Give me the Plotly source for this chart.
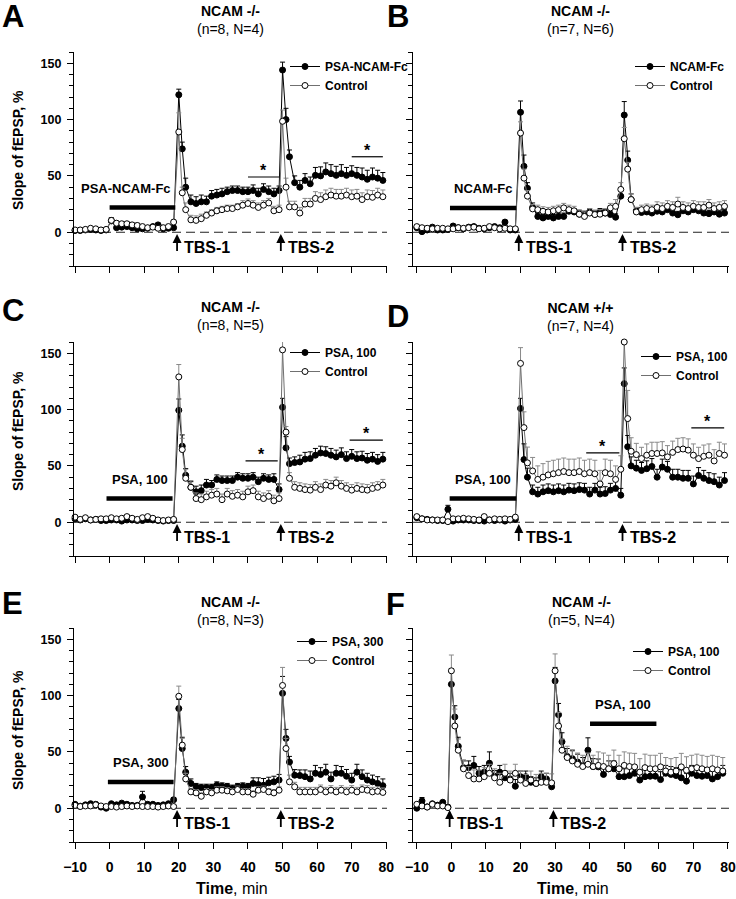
import plotly.graph_objects as go

W, H = 736, 899
FONT = "Liberation Sans, Arial, Helvetica, sans-serif"

# ---------------- data ----------------
T_AE = [-10, -8.5, -7, -5.5, -4, -2.5, -1, 0.5, 2, 3.5, 5, 6.5, 8, 9.5, 11, 12.5, 14, 15.5, 17, 18.5,
        20, 21, 22, 23.5, 25, 26.5, 28, 29.5, 31, 32.5, 34, 35.5, 37, 38.5, 40, 41.5, 43, 44.5, 46, 47.5, 49,
        50, 51, 52, 53.5, 55, 56.5, 58, 59.5, 61, 62.5, 64, 65.5, 67, 68.5, 70, 71.5, 73, 74.5, 76, 77.5, 79]
T_F = [-10, -8.5, -7, -5.5, -4, -2.5, -1,
       0, 1, 2, 3.5, 5, 6.5, 8, 9.5, 11, 12.5, 14, 15.5, 17, 18.5, 20, 21.5, 23, 24.5, 26, 27.5, 29,
       30, 31, 32, 33.5, 35, 36.5, 38, 39.5, 41, 42.5, 44, 45.5, 47, 48.5, 50, 51.5, 53, 54.5, 56, 57.5, 59,
       60.5, 62, 63.5, 65, 66.5, 68, 69.5, 71, 72.5, 74, 75.5, 77, 78.5]

# Panel A
A_trt = [1.5, 1.5, 2, 2.5, 2, 1.5, 2, 10, 4, 4.5, 5, 4, 3, 3, 3.5, 5, 6.5, 3, 3.5, 4,
         122, 74, 40, 27, 25.5, 27, 27, 32, 33, 34, 36, 37, 37, 36, 36, 37, 34, 38, 36, 34, 37,
         144, 100, 67, 44, 40, 46, 43, 50.5, 50, 53.5, 52, 50.5, 52, 50.5, 52, 50.5, 49, 47, 49, 48, 46]
A_trt_err = [1, 1, 1, 1, 1, 1, 1, 3, 1.5, 1.5, 1.5, 1.5, 1.5, 1.5, 1.5, 1.5, 1.5, 1.5, 1.5, 1.5,
             5, 6, 8, 6, 6, 6, 5, 5, 5, 5, 4, 4, 4, 4, 4, 5, 5, 5, 5, 5, 4,
             7, 10, 6, 6, 6, 6, 6, 7, 8, 8, 8, 8, 8, 7, 7, 7, 8, 8, 8, 7, 7]
A_ctl = [2, 2, 2.5, 3.5, 3, 2, 2.5, 10.5, 8, 7.5, 7.5, 6.5, 6, 5, 4, 4.5, 3.5, 4, 5, 9,
         89, 35, 20, 11, 10.5, 12, 15, 17, 19, 20, 21, 21, 22.5, 24, 25.5, 24, 22, 24, 26, 19, 20,
         98.5, 40, 22.5, 22.5, 17, 25, 25, 30, 29, 31.5, 33, 32, 32, 33, 31.5, 32, 29, 31.5, 31, 33, 31.5]
A_ctl_err = [1, 1, 1, 1, 1, 1, 1, 2, 2, 2, 2, 2, 2, 2, 2, 2, 2, 2, 2, 2,
             17, 5, 6, 4, 4, 4, 3, 3, 3, 3, 3, 3, 3, 4, 4, 4, 4, 4, 4, 4, 4,
             10, 8, 5, 5, 5, 5, 5, 6, 6, 6, 6, 6, 6, 6, 6, 6, 6, 6, 6, 6, 6]

# Panel B
B_trt = [4, 0.5, 2, 4.5, 2, 2, 2.5, 5.5, 4, 3, 4.5, 5, 3.5, 3, 4, 5, 4, 9, 2, 2,
         106.5, 58.5, 39, 22, 14, 12.7, 14, 12.7, 14, 14, 18.6, 18, 16, 15.7, 18, 16, 18, 17, 15.7, 13.3, 32,
         104, 64, 29, 19, 17.5, 18, 17, 18.6, 18, 20, 17, 15.5, 19, 18, 20, 19, 17, 16.5, 18, 16, 17]
B_trt_err = [1.5, 1.5, 1.5, 1.5, 1.5, 1.5, 1.5, 1.5, 1.5, 1.5, 1.5, 1.5, 1.5, 1.5, 1.5, 1.5, 1.5, 1.5, 1.5, 1.5,
             10, 10, 5, 4, 3, 3, 3, 3, 3, 3, 3, 3, 3, 3, 3, 3, 3, 3, 3, 3, 5,
             12, 8, 5, 3, 3, 3, 3, 3, 3, 4, 3, 3, 4, 3, 3, 4, 3, 3, 4, 3, 3]
B_ctl = [5, 4, 3.5, 3, 3.5, 3.5, 3, 3, 4, 3.5, 4, 4.5, 3, 3.5, 5, 4, 3, 3.5, 3, 3,
         88, 48, 32, 20.7, 20, 18.6, 18, 19, 20, 21.6, 20, 19, 16, 14, 17, 15.7, 16, 17, 21.6, 23, 38,
         83, 56, 29, 18, 20, 21, 20, 22, 21, 23, 22, 25, 22, 21, 23, 22, 22, 24, 21, 22, 23]
B_ctl_err = [1.5, 1.5, 1.5, 1.5, 1.5, 1.5, 1.5, 1.5, 1.5, 1.5, 1.5, 1.5, 1.5, 1.5, 1.5, 1.5, 1.5, 1.5, 1.5, 1.5,
             10, 8, 5, 4, 4, 4, 4, 4, 4, 4, 4, 4, 4, 4, 4, 4, 4, 4, 4, 6, 6,
             10, 6, 5, 4, 4, 4, 4, 5, 5, 5, 5, 6, 5, 5, 5, 5, 5, 5, 5, 5, 5]

# Panel C
C_trt = [3, 2, 3, 2, 2.5, 1.5, 1.5, 2, 2, 1, 2, 2, 1.5, 1.5, 2.5, 2, 1.5, 1, 1.5, 1.5,
         99.4, 67.5, 41.7, 31, 27, 28, 33, 33, 38, 37, 37, 37, 40, 39, 39, 40, 36, 39, 38, 38, 29,
         102, 66, 52, 53, 53.5, 56, 56.5, 59.5, 61.5, 61, 59.5, 58, 60, 56.5, 58.5, 56.5, 57, 55, 56, 54, 56]
C_trt_err = [1, 1, 1, 1, 1, 1, 1, 1, 1, 1, 1, 1, 1, 1, 1, 1, 1, 1, 1, 1,
             10, 10, 6, 5, 5, 5, 5, 4, 4, 4, 4, 4, 4, 4, 4, 4, 4, 4, 4, 5, 5,
             8, 10, 5, 5, 6, 6, 6, 6, 6, 6, 6, 6, 6, 6, 6, 6, 6, 6, 6, 6, 6]
C_ctl = [4.5, 2.5, 4, 2, 2.5, 3, 3, 4, 3, 3.5, 5, 3.5, 2.5, 4, 5, 3.5, 2, 1.5, 2, 2.5,
         129, 64.5, 39, 31, 21, 20, 22.5, 24, 25, 20, 25, 23, 24, 22.5, 27, 28, 22.5, 21, 23, 19, 21,
         153, 80, 39, 31, 30, 29, 28.5, 31, 29, 33, 32, 35, 32, 30, 28.5, 30, 29, 28.5, 30, 31, 33]
C_ctl_err = [1.5, 1.5, 1.5, 1.5, 1.5, 1.5, 1.5, 1.5, 1.5, 1.5, 1.5, 1.5, 1.5, 1.5, 1.5, 1.5, 1.5, 1.5, 1.5, 1.5,
             11, 10, 8, 6, 5, 5, 5, 5, 5, 5, 5, 5, 5, 5, 5, 5, 5, 5, 5, 5, 5,
             8, 5, 5, 5, 5, 5, 5, 5, 5, 5, 5, 5, 5, 5, 5, 5, 5, 5, 5, 5, 5]

# Panel D
D_trt = [4, 3, 2.5, 2, 1.5, 1.5, 11.5, 1, 2, 2, 2, 1.5, 1.5, 1, 2, 1.5, 2, 1, 2, 2.5,
         101, 55.6, 40, 27, 25, 27, 28, 27, 28, 27, 28.5, 28, 29, 28.5, 25, 28.5, 25, 25.5, 28.5, 30, 24,
         123, 67, 50, 48, 46, 47.5, 49.5, 40, 49, 47, 40, 40, 39, 39, 34, 41.5, 39, 37, 36, 33, 37]
D_trt_err = [1, 1, 1, 1, 1, 1, 3.5, 1, 1, 1, 1, 1, 1, 1, 1, 1, 1, 1, 1, 1,
             9, 14, 8, 6, 6, 6, 6, 6, 6, 6, 6, 6, 6, 6, 6, 6, 6, 6, 6, 6, 6,
             14, 10, 8, 7, 7, 7, 7, 7, 7, 7, 7, 7, 7, 7, 7, 7, 7, 7, 7, 7, 7]
D_ctl = [5, 3, 2, 2, 2, 2, 0.5, 3, 3, 3.5, 3, 2.5, 2, 5, 2, 3, 2.5, 3, 2.5, 4.5,
         141, 84, 52.7, 45.5, 38, 40, 42, 43, 44, 45, 44, 44, 45, 43, 44, 43, 34, 44, 43, 38, 47,
         160, 92, 63, 60, 56.5, 59.5, 61, 61, 61.5, 58, 62, 64.5, 65, 64, 59.5, 56.5, 58.5, 59.5, 54.4, 61, 59.5]
D_ctl_err = [1.5, 1.5, 1.5, 1.5, 1.5, 1.5, 1.5, 1.5, 1.5, 1.5, 1.5, 1.5, 1.5, 1.5, 1.5, 1.5, 1.5, 1.5, 1.5, 1.5,
             14, 14, 14, 12, 12, 12, 12, 12, 12, 12, 12, 12, 12, 12, 12, 12, 12, 12, 12, 12, 12,
             0, 25, 12, 10, 10, 10, 10, 10, 10, 10, 10, 10, 10, 10, 10, 10, 10, 10, 10, 10, 10]

# Panel E
E_trt = [3.5, 1.8, 3, 4, 3.5, 1, 0, 4, 3, 4.5, 3.5, 2.5, 2.5, 10, 3.5, 3.5, 2.5, 3, 4, 7.5,
         88.5, 53, 32, 22, 19, 18.3, 18.3, 18.3, 20.4, 19.5, 19, 17.5, 19, 19.5, 19, 22, 21, 20.4, 22.5, 23.4, 25,
         102, 62, 41, 29.3, 29, 28, 26, 31, 30, 32, 26, 31, 31, 28.4, 25, 32, 28, 25, 23.4, 22, 20]
E_trt_err = [1, 1, 1, 1, 1, 1, 1, 1, 1, 1, 1, 1, 1, 5, 1, 1, 1, 1, 1, 2,
             8, 10, 5, 4, 3, 3, 3, 3, 3, 3, 3, 3, 3, 3, 3, 5, 6, 6, 5, 5, 5,
             15, 8, 5, 5, 5, 6, 7, 7, 6, 7, 6, 7, 6, 6, 6, 7, 6, 6, 6, 6, 6]
E_ctl = [2.5, 1.5, 2, 2, 3, 2, 1.5, 1.5, 1, 1.5, 2, 1.5, 2, 1.5, 1.5, 1.5, 1, 1.5, 2, 1.5,
         99.4, 56, 26, 14.5, 13.6, 10.6, 14.5, 13.6, 16, 16, 15.4, 14.5, 16.6, 14.5, 14.5, 12.4, 16, 16.6, 14.5, 13.6, 16,
         109, 53, 23.4, 19, 14.5, 14.5, 14.5, 14.5, 16.6, 14.5, 16, 14.5, 16, 14.5, 16, 14.5, 16.6, 16, 14.5, 15, 14]
E_ctl_err = [1, 1, 1, 1, 1, 1, 1, 1, 1, 1, 1, 1, 1, 1, 1, 1, 1, 1, 1, 1,
             9, 6, 5, 3, 3, 3, 3, 3, 3, 3, 3, 3, 3, 3, 3, 3, 3, 3, 3, 3, 3,
             16, 9, 6, 4, 4, 4, 4, 4, 4, 4, 4, 4, 4, 4, 4, 4, 4, 4, 4, 4, 4]

# Panel F
F_trt = [0, 6.5, 1.2, 4, 2.7, 5.3, 1,
         110, 81, 55, 36, 36, 38, 31, 32, 40, 28.4, 32, 27, 26, 19.5, 28, 28, 23, 22, 28, 26, 19,
         113, 83, 59, 46, 44, 41, 38, 51.5, 37, 36.7, 30, 35, 35, 28, 28, 29, 31, 25, 28, 28.4, 28.4,
         25.4, 31, 30, 29, 27, 24, 31, 29, 28.4, 29, 26, 28, 31]
F_trt_err = [1, 3, 1, 1, 1, 1, 1,
             14, 10, 8, 6, 6, 8, 6, 6, 10, 5, 6, 6, 5, 6, 5, 5, 5, 5, 5, 5, 5,
             12, 10, 8, 7, 7, 7, 7, 11, 7, 7, 7, 7, 7, 7, 7, 7, 7, 7, 7, 7, 7,
             7, 7, 7, 7, 7, 7, 7, 7, 7, 7, 7, 7, 7]
F_ctl = [3.5, 2, 1, 3.5, 2, 2, 0.5,
         122, 73, 51.5, 35, 29, 26, 26, 28, 31, 27, 23, 31, 25, 31, 25, 22, 25, 22, 23, 23, 22.5,
         122, 73, 51.5, 45, 42, 39, 37, 39, 37, 38, 37, 35, 39.6, 35, 38, 37, 36.7, 32, 36, 35, 35,
         36.7, 33, 32, 33, 36.7, 33.7, 35, 36, 35, 34, 35, 34, 33]
F_ctl_err = [1, 1, 1, 1, 1, 1, 1,
             14, 15, 10, 8, 8, 8, 8, 8, 8, 8, 8, 8, 8, 8, 8, 8, 8, 8, 8, 8, 8,
             15, 12, 10, 10, 10, 10, 10, 10, 10, 12, 12, 12, 12, 12, 12, 12, 12, 12, 12, 12, 12,
             12, 12, 12, 12, 12, 12, 12, 12, 12, 12, 12, 12, 12]

panel_letters = ["A", "B", "C", "D", "E", "F"]
genotypes = ["NCAM -/-", "NCAM -/-", "NCAM -/-", "NCAM +/+", "NCAM -/-", "NCAM -/-"]
sample_sizes = ["(n=8, N=4)", "(n=7, N=6)", "(n=8, N=5)", "(n=7, N=4)", "(n=8, N=3)", "(n=5, N=4)"]
treatment_names = ["PSA-NCAM-Fc", "NCAM-Fc", "PSA, 100", "PSA, 100", "PSA, 300", "PSA, 100"]
control_name = "Control"
drug_start = [0, -0.4, -0.9, -0.5, -0.5, 40.1]
drug_end = [19, 18.8, 18.2, 18.8, 18.5, 59.3]
tbs_times = [[19.5, 49.5], [19.5, 49.5], [19.5, 49.5], [19.5, 49.5], [19.5, 49.5], [-0.5, 29.5]]
tbs_labels = ["TBS-1", "TBS-2"]
sig_panel = [0, 0, 2, 2, 3, 3]
sig_start = [40, 70, 39.3, 69.4, 39, 69.4]
sig_end = [49, 79, 48.6, 79, 48.6, 78.9]
sig_level = [49, 67, 54.4, 72.8, 61.5, 83.7]
x_ticks = [-10, 0, 10, 20, 30, 40, 50, 60, 70, 80]

times = [T_AE, T_AE, T_AE, T_AE, T_AE, T_F]
treated = [A_trt, B_trt, C_trt, D_trt, E_trt, F_trt]
treated_err = [A_trt_err, B_trt_err, C_trt_err, D_trt_err, E_trt_err, F_trt_err]
control = [A_ctl, B_ctl, C_ctl, D_ctl, E_ctl, F_ctl]
control_err = [A_ctl_err, B_ctl_err, C_ctl_err, D_ctl_err, E_ctl_err, F_ctl_err]
for arrs in (treated, treated_err, control, control_err):
    for k, a in enumerate(arrs):
        assert len(a) == len(times[k]), (k, len(a), len(times[k]))

# ---------------- layout (pixel geometry) ----------------
X_DOM = [(74, 387), (413, 729)]
X_RNG = [[-10.3, 80.2], [-11.1, 80.3]]
Y_DOM = [(52, 266), (342, 556), (628, 842)]
Y_RNG = [-30, 160]
drug_level = [22, 21.6, 21, 21, 23.3, 75]
drug_label_shift = [-4.9, 0, 0, 0, 0, 0]
legend_px = [(285, 52), (630, 52), (285, 338), (636, 342), (292, 627), (628, 637)]
title_px = [(230, 20), (580, 20), (230, 316), (580, 317), (230, 611), (581, 611)]
letter_px = [(13, 16), (398, 16), (13, 311), (398, 316), (12, 603), (396, 604)]
ytitle_py = [150, 431, 730]
xtitle_px = [(232, 888), (573, 888)]


def px(x):
    return x / W


def py(y):
    return 1 - y / H


fig = go.Figure()
layout = dict(width=W, height=H, margin=dict(l=0, r=0, t=0, b=0, pad=0, autoexpand=False),
              autosize=False, paper_bgcolor="white", plot_bgcolor="white",
              font=dict(family=FONT, color="black"), showlegend=True)
shapes = []
anns = []

for i in range(6):
    row, col = divmod(i, 2)
    sfx = "" if i == 0 else str(i + 1)
    xr, yr = "x" + sfx, "y" + sfx
    lg = "legend" + sfx
    T = times[i]

    layout["xaxis" + sfx] = dict(
        domain=[px(X_DOM[col][0]), px(X_DOM[col][1])], range=X_RNG[col], anchor=yr,
        automargin=False,
        showline=True, linecolor="black", linewidth=1.3, mirror=False,
        ticks="outside", ticklen=6, tickwidth=1.2, tickcolor="black",
        tickmode="array", tickvals=x_ticks, showticklabels=(row == 2),
        tickfont=dict(size=14, weight="bold", family=FONT), ticklabelstandoff=6,
        showgrid=False, zeroline=False)
    layout["yaxis" + sfx] = dict(
        domain=[py(Y_DOM[row][1]), py(Y_DOM[row][0])], range=Y_RNG, anchor=xr,
        automargin=False,
        showline=True, linecolor="black", linewidth=1.3,
        ticks="outside", ticklen=6, tickwidth=1.2, tickcolor="black",
        tickmode="linear", tick0=0, dtick=50, showticklabels=(col == 0),
        minor=dict(tick0=0, dtick=10, ticks="outside", ticklen=3.5, tickwidth=1, tickcolor="black"),
        tickfont=dict(size=12.5, weight="bold", family=FONT), ticklabelstandoff=3,
        showgrid=False, zeroline=False)

    fig.add_trace(go.Scatter(
        x=T, y=treated[i], name=treatment_names[i], mode="lines+markers",
        xaxis=xr, yaxis=yr, legend=lg, cliponaxis=False,
        line=dict(color="black", width=1),
        marker=dict(symbol="circle", size=6, color="black", line=dict(color="black", width=1)),
        error_y=dict(type="data", array=treated_err[i], arrayminus=[0] * len(T), symmetric=False,
                     color="black", thickness=1, width=2.5)))
    fig.add_trace(go.Scatter(
        x=T, y=control[i], name=control_name, mode="lines+markers",
        xaxis=xr, yaxis=yr, legend=lg, cliponaxis=False,
        line=dict(color="#707070", width=1),
        marker=dict(symbol="circle", size=6, color="white", line=dict(color="black", width=1)),
        error_y=dict(type="data", array=control_err[i], arrayminus=[0] * len(T), symmetric=False,
                     color="#8a8a8a", thickness=1, width=2.5)))

    lx, ly = legend_px[i]
    layout[lg] = dict(x=px(lx), y=py(ly), xanchor="left", yanchor="top",
                      bgcolor="rgba(0,0,0,0)", borderwidth=0, itemwidth=30,
                      font=dict(size=12, weight="bold", family=FONT, color="black"))

    # dashed baseline
    shapes.append(dict(type="line", xref=xr + " domain", yref=yr, x0=0, x1=1, y0=0, y1=0,
                       line=dict(color="#222222", width=1.1, dash="9px,5px"), layer="below"))
    # drug application bar
    shapes.append(dict(type="line", xref=xr, yref=yr, x0=drug_start[i], x1=drug_end[i],
                       y0=drug_level[i], y1=drug_level[i], line=dict(color="black", width=4.5)))
    anns.append(dict(xref=xr, yref=yr, x=(drug_start[i] + drug_end[i]) / 2 + drug_label_shift[i],
                     y=drug_level[i] + 17, text="<b>%s</b>" % treatment_names[i], showarrow=False,
                     xanchor="center", yanchor="middle", font=dict(size=13, family=FONT)))
    # TBS arrows
    for k, t in enumerate(tbs_times[i]):
        anns.append(dict(xref=xr, yref=yr, x=t, y=-1.5, axref=xr, ayref=yr, ax=t, ay=-18,
                         text="", showarrow=True, arrowhead=2, arrowsize=1, arrowwidth=1.8,
                         arrowcolor="black"))
        anns.append(dict(xref=xr, yref=yr, x=t, y=-14, xshift=5, text="<b>%s</b>" % tbs_labels[k],
                         showarrow=False, xanchor="left", yanchor="middle",
                         font=dict(size=16, family=FONT)))
    # titles
    tx, ty = title_px[i]
    anns.append(dict(xref="paper", yref="paper", x=px(tx), y=py(ty),
                     text="<b>%s</b><br>%s" % (genotypes[i], sample_sizes[i]),
                     showarrow=False, xanchor="center", yanchor="middle",
                     font=dict(size=14, family=FONT)))
    lx2, ly2 = letter_px[i]
    anns.append(dict(xref="paper", yref="paper", x=px(lx2), y=py(ly2),
                     text="<b>%s</b>" % panel_letters[i], showarrow=False,
                     xanchor="center", yanchor="middle", font=dict(size=31, family=FONT)))

# significance brackets
for j, p in enumerate(sig_panel):
    sfx = "" if p == 0 else str(p + 1)
    xr, yr = "x" + sfx, "y" + sfx
    shapes.append(dict(type="line", xref=xr, yref=yr, x0=sig_start[j], x1=sig_end[j],
                       y0=sig_level[j], y1=sig_level[j], line=dict(color="black", width=1.2)))
    anns.append(dict(xref=xr, yref=yr, x=(sig_start[j] + sig_end[j]) / 2, y=sig_level[j],
                     text="<b>*</b>", showarrow=False, xanchor="center", yanchor="bottom",
                     yshift=-4, font=dict(size=16, family=FONT)))

# axis titles
for r in range(3):
    anns.append(dict(xref="paper", yref="paper", x=px(18), y=py(ytitle_py[r]),
                     text="<b>Slope of fEPSP, %</b>", textangle=-90, showarrow=False,
                     xanchor="center", yanchor="middle", font=dict(size=14, family=FONT)))
for c in range(2):
    xx, yy = xtitle_px[c]
    anns.append(dict(xref="paper", yref="paper", x=px(xx), y=py(yy),
                     text="<b>Time</b>, min", showarrow=False,
                     xanchor="center", yanchor="middle", font=dict(size=16, family=FONT)))

layout["shapes"] = shapes
layout["annotations"] = anns
fig.update_layout(**layout)
fig.write_html("out.html",
               config={"displayModeBar": False},
               post_script="document.body.style.margin='0';document.body.style.padding='0';"
                           "document.documentElement.style.overflow='hidden';")
